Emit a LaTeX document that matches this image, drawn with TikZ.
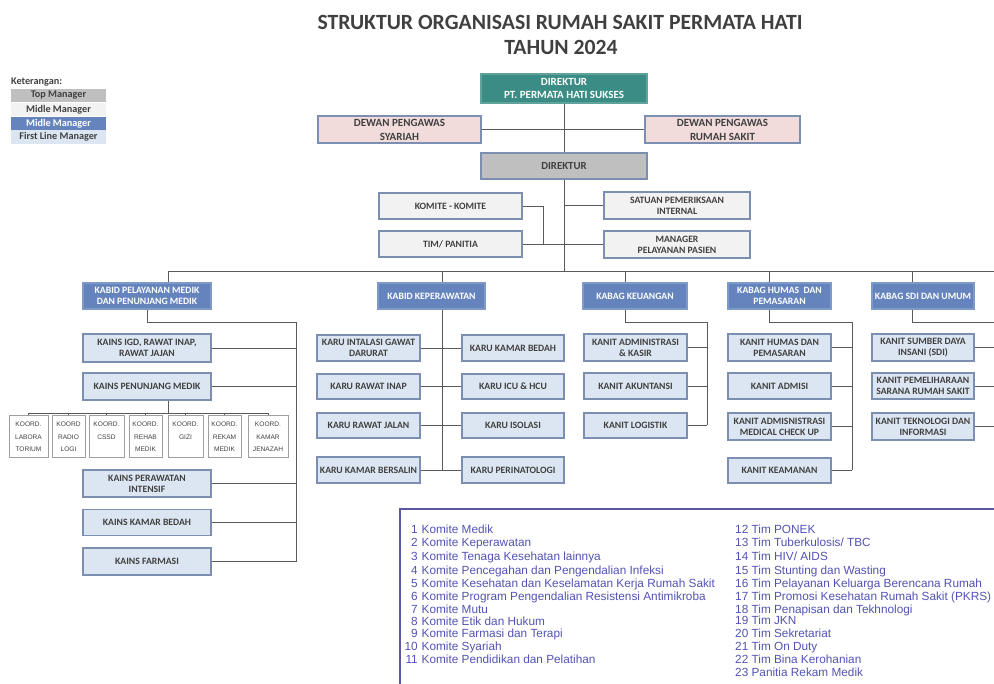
\documentclass[tikz,border=0pt]{standalone}
\usepackage{fontspec}
\setmainfont{Carlito}
\newfontfamily\arialf{Liberation Sans}
\definecolor{tealc}{HTML}{3A8C84}
\definecolor{tealb}{HTML}{5FA39C}
\definecolor{pinkc}{HTML}{F2DCDB}
\definecolor{grayc}{HTML}{BFBFBF}
\definecolor{midc}{HTML}{F2F2F2}
\definecolor{bluec}{HTML}{6584BE}
\definecolor{blueb}{HTML}{7F99C8}
\definecolor{flc}{HTML}{DCE6F2}
\definecolor{bordc}{HTML}{7D8FB0}
\definecolor{txtc}{HTML}{404040}
\definecolor{linec}{HTML}{595959}
\definecolor{listc}{HTML}{5252B4}
\definecolor{listb}{HTML}{5A58A0}
\begin{document}
\begin{tikzpicture}[x=1pt,y=-1pt,
  box/.style={draw=bordc, line width=1.1pt, font=\fontsize{9.7}{11}\selectfont\bfseries, align=center, inner sep=1pt, text=txtc},
  topbox/.style={box, fill=tealc, draw=tealb, text=white, font=\fontsize{11}{13.3}\selectfont\bfseries},
  pinkbox/.style={box, fill=pinkc, font=\fontsize{11}{14}\selectfont\bfseries},
  graybox/.style={box, fill=grayc, font=\fontsize{10.8}{13}\selectfont\bfseries},
  midbox/.style={box, fill=midc},
  bluebox/.style={box, fill=bluec, draw=blueb, text=white},
  flbox/.style={box, fill=flc},
  koord/.style={draw=gray!75, line width=1pt, fill=white, font=\arialf\fontsize{6.6}{12.5}\selectfont, text=txtc, align=center, inner sep=1pt, minimum width=#1, minimum height=42pt},
  leg/.style={inner sep=0pt, minimum width=95pt, minimum height=13.5pt, font=\fontsize{10.2}{11}\selectfont\bfseries, text=txtc},
  conn/.style={draw=linec, line width=0.9pt},
  lst/.style={font=\arialf\fontsize{11.8}{13}\selectfont, text=listc, inner sep=0pt}]
\useasboundingbox (0,0) rectangle (994,684);
\newcommand\bx[6]{\node[#1, minimum width=#4pt, minimum height=#5pt] (#2) at (#3) {#6};}

% title
\node[font=\fontsize{21.7}{24}\selectfont\bfseries, text=txtc] (title1) at (560,22) {STRUKTUR ORGANISASI RUMAH SAKIT PERMATA HATI};
\node[font=\fontsize{21.7}{24}\selectfont\bfseries, text=txtc] (title2) at (561,47) {TAHUN 2024};

% legend
\node[anchor=west, font=\fontsize{10.2}{11}\selectfont\bfseries, text=txtc, inner sep=0pt] (ket) at (11,82) {Keterangan:};
\node[leg, fill=grayc] (l1) at (58.5,95.5) {Top Manager};
\node[leg, fill=midc] (l2) at (58.5,109.5) {Midle Manager};
\node[leg, fill=bluec, text=white] (l3) at (58.5,123.5) {Midle Manager};
\node[leg, fill=flc] (l4) at (58.5,137) {First Line Manager};

% top
\bx{topbox}{dir1}{564,88.5}{166}{29}{DIREKTUR\\PT. PERMATA HATI SUKSES}
\bx{pinkbox}{dps}{399.5,129.5}{163}{27}{DEWAN PENGAWAS\\SYARIAH}
\bx{pinkbox}{dprs}{722.5,129.5}{155}{27}{DEWAN PENGAWAS\\RUMAH SAKIT}
\bx{graybox}{dir2}{564,166}{166}{26}{DIREKTUR}
\bx{midbox}{komite}{450.5,206}{143}{26}{KOMITE - KOMITE}
\bx{midbox}{tim}{450.5,244}{143}{26}{TIM/ PANITIA}
\bx{midbox}{spi}{677,205.5}{146}{27}{SATUAN PEMERIKSAAN\\INTERNAL}
\bx{midbox}{mpp}{677,244.5}{146}{27}{MANAGER\\PELAYANAN PASIEN}

% kabid / kabag
\bx{bluebox}{kabid1}{147,296}{128}{26}{KABID PELAYANAN MEDIK\\DAN PENUNJANG MEDIK}
\bx{bluebox}{kabid2}{431.5,296}{107}{26}{KABID KEPERAWATAN}
\bx{bluebox}{keu}{635,296}{104}{26}{KABAG KEUANGAN}
\bx{bluebox}{humas}{779.5,296}{103}{26}{KABAG HUMAS \ DAN\\PEMASARAN}
\bx{bluebox}{sdi}{923,296}{102}{26}{KABAG SDI DAN UMUM}

% medik children
\bx{flbox}{igd}{147,348}{128}{28}{KAINS IGD, RAWAT INAP,\\RAWAT JAJAN}
\bx{flbox}{pen}{147,386.5}{128}{27}{KAINS PENUNJANG MEDIK}
\bx{flbox}{pi}{147,483.5}{128}{27}{KAINS PERAWATAN\\INTENSIF}
\bx{flbox}{kb}{147,522.5}{128}{26}{KAINS KAMAR BEDAH}
\bx{flbox}{far}{147,561.5}{128}{27}{KAINS FARMASI}

% koord
\node[koord=39pt] (k1) at (28.5,437) {KOORD.\\LABORA\\TORIUM};
\node[koord=33pt] (k2) at (68.5,437) {KOORD\\RADIO\\LOGI};
\node[koord=35pt] (k3) at (106.5,437) {KOORD.\\CSSD\\\mbox{}};
\node[koord=33pt] (k4) at (145.5,437) {KOORD.\\REHAB\\MEDIK};
\node[koord=35pt] (k5) at (185.5,437) {KOORD.\\GIZI\\\mbox{}};
\node[koord=33pt] (k6) at (224.5,437) {KOORD.\\REKAM\\MEDIK};
\node[koord=40pt] (k7) at (268,437) {KOORD.\\KAMAR\\JENAZAH};

% keperawatan children
\bx{flbox}{r1l}{368.5,348}{103}{26}{KARU INTALASI GAWAT\\DARURAT}
\bx{flbox}{r1r}{513,348}{102}{26}{KARU KAMAR BEDAH}
\bx{flbox}{r2l}{368.5,386.5}{103}{25}{KARU RAWAT INAP}
\bx{flbox}{r2r}{513,386.5}{102}{25}{KARU ICU \& HCU}
\bx{flbox}{r3l}{368.5,425.5}{103}{25}{KARU RAWAT JALAN}
\bx{flbox}{r3r}{513,425.5}{102}{25}{KARU ISOLASI}
\bx{flbox}{r4l}{368.5,470}{103}{26}{KARU KAMAR BERSALIN}
\bx{flbox}{r4r}{513,470}{102}{26}{KARU PERINATOLOGI}

% keuangan children
\bx{flbox}{u1}{635.5,347.5}{103}{27}{KANIT ADMINISTRASI\\\& KASIR}
\bx{flbox}{u2}{635.5,386}{103}{26}{KANIT AKUNTANSI}
\bx{flbox}{u3}{635.5,425.5}{103}{25}{KANIT LOGISTIK}

% humas children
\bx{flbox}{h1}{779.5,347.5}{103}{27}{KANIT HUMAS DAN\\PEMASARAN}
\bx{flbox}{h2}{779.5,386}{103}{26}{KANIT ADMISI}
\bx{flbox}{h3}{779.5,426.5}{103}{27}{KANIT ADMISNISTRASI\\MEDICAL CHECK UP}
\bx{flbox}{h4}{779.5,470.5}{103}{25}{KANIT KEAMANAN}

% sdi children
\bx{flbox}{s1}{923,347.5}{102}{27}{KANIT SUMBER DAYA\\INSANI (SDI)}
\bx{flbox}{s2}{923,386}{102}{26}{KANIT PEMELIHARAAN\\SARANA RUMAH SAKIT}
\bx{flbox}{s3}{923,426.5}{102}{27}{KANIT TEKNOLOGI DAN\\INFORMASI}

% coordinates
\coordinate (busL) at (168,271);
\coordinate (busR) at (994,271);
\coordinate (t2) at (442,271);
\coordinate (t3) at (625,271);
\coordinate (t4) at (769,271);
\coordinate (t5) at (912,271);
\coordinate (kj) at (543,244);
\coordinate (v1) at (296,322);
\coordinate (v1e) at (296,561.5);
\coordinate (v2e) at (442,470);
\coordinate (v3) at (707,322);
\coordinate (v3e) at (707,425.5);
\coordinate (v4) at (852,322);
\coordinate (v4e) at (852,470.5);
\coordinate (v5) at (994,322);
\coordinate (kbus) at (168,413);

% connectors top
\draw[conn] (dir1.south) -- (dir2.north);
\draw[conn] (dps.east) -- (dprs.west);
\draw[conn] (dir2.south) -- (dir2.south |- busL);
\draw[conn] (busL) -- (busR);
\draw[conn] (komite.east) -| (kj);
\draw[conn] (tim.east) -- (tim.east -| dir2.south);
\draw[conn] (spi.west -| dir2.south) -- (spi.west);
\draw[conn] (mpp.west -| dir2.south) -- (mpp.west);

% to kabid/kabag
\draw[conn] (busL) -- (busL |- kabid1.north);
\draw[conn] (t2) -- (t2 |- kabid2.north);
\draw[conn] (t3) -- (t3 |- keu.north);
\draw[conn] (t4) -- (t4 |- humas.north);
\draw[conn] (t5) -- (t5 |- sdi.north);

% medik
\draw[conn] (kabid1.south) |- (v1) -- (v1e);
\foreach \n in {igd,pen,pi,kb,far} \draw[conn] (\n.east) -- (\n.east -| v1);
\draw[conn] (pen.south -| kbus) -- (kbus);
\draw[conn] (k1.north |- kbus) -- (k7.north |- kbus);
\foreach \n in {k1,k2,k3,k4,k5,k6,k7} \draw[conn] (\n.north |- kbus) -- (\n.north);

% keperawatan
\draw[conn] (t2 |- kabid2.south) -- (v2e);
\foreach \i in {1,2,3,4} \draw[conn] (r\i l.east) -- (r\i r.west);

% keuangan
\draw[conn] (t3 |- keu.south) |- (v3) -- (v3e);
\foreach \n in {u1,u2,u3} \draw[conn] (\n.east) -- (\n.east -| v3);

% humas
\draw[conn] (t4 |- humas.south) |- (v4) -- (v4e);
\foreach \n in {h1,h2,h3,h4} \draw[conn] (\n.east) -- (\n.east -| v4);

% sdi
\draw[conn] (t5 |- sdi.south) |- (v5);
\foreach \n in {s1,s2,s3} \draw[conn] (\n.east) -- (\n.east -| v5);

% list panel
\draw[draw=listb, line width=1.2pt] (400,684) -- (400,509) -- (994,509);
\foreach \y/\num/\t in {533/1/{Komite Medik}, 547/2/{Komite Keperawatan}, 560/3/{Komite Tenaga Kesehatan lainnya}, 574/4/{Komite Pencegahan dan Pengendalian Infeksi}, 587/5/{Komite Kesehatan dan Keselamatan Kerja Rumah Sakit}, 600/6/{Komite Program Pengendalian Resistensi Antimikroba}, 613/7/{Komite Mutu}, 625/8/{Komite Etik dan Hukum}, 637/9/{Komite Farmasi dan Terapi}, 650/10/{Komite Syariah}, 663/11/{Komite Pendidikan dan Pelatihan}}{
  \node[lst, anchor=base east] (n\num) at (418,\y) {\num};
  \node[lst, anchor=base west] (t\num) at (421.5,\y) {\t};
}
\foreach \y/\t in {533/{12 Tim PONEK}, 547/{13 Tim Tuberkulosis/ TBC}, 560/{14 Tim HIV/ AIDS}, 574/{15 Tim Stunting dan Wasting}, 587/{16 Tim Pelayanan Keluarga Berencana Rumah}, 600/{17 Tim Promosi Kesehatan Rumah Sakit (PKRS)}, 613/{18 Tim Penapisan dan Tekhnologi}, 624/{19 Tim JKN}, 637/{20 Tim Sekretariat}, 650/{21 Tim On Duty}, 663/{22 Tim Bina Kerohanian}, 676/{23 Panitia Rekam Medik}}{
  \node[lst, anchor=base west] at (735,\y) {\t};
}
\end{tikzpicture}
\end{document}
